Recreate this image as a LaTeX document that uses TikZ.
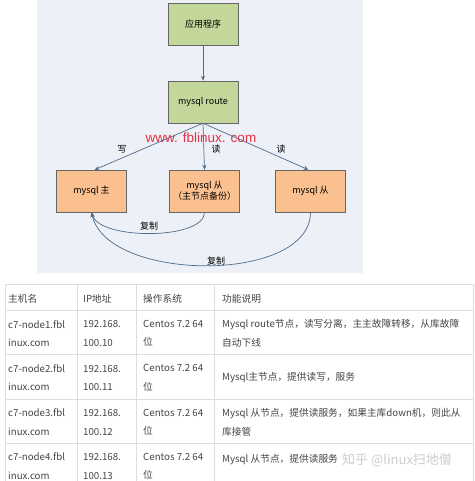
\documentclass[tikz,border=0pt]{standalone}
\usepackage{fontspec}
\setmainfont{Noto Sans CJK SC}
\newfontfamily\webfont{Liberation Sans}
\usetikzlibrary{arrows.meta}

\definecolor{bgblue}{RGB}{237,240,247}
\definecolor{appgreen}{RGB}{196,215,155}
\definecolor{dborange}{RGB}{250,192,143}
\definecolor{linkblue}{RGB}{78,108,140}
\definecolor{webred}{RGB}{226,52,70}
\definecolor{rulegray}{RGB}{221,221,221}
\definecolor{textgray}{RGB}{68,68,68}

\begin{document}
\begin{tikzpicture}[x=1pt,y=-1pt,
    box_node/.style={draw=gray!80!black,minimum width=70pt,minimum height=42pt,inner sep=1pt,font=\fontsize{9}{11}\selectfont,align=center},
    app_node/.style={box_node,fill=appgreen},
    db_node/.style={box_node,fill=dborange},
    link/.style={draw=linkblue,line width=0.7pt,-{Stealth[length=5pt,width=4pt]}},
    link_label/.style={font=\fontsize{9}{11}\selectfont},
    cell/.style={anchor=west,text=textgray,align=left,inner sep=0pt,font=\fontsize{9.7}{18.5}\selectfont}]
    \useasboundingbox (0,0) rectangle (474,481);
    \fill[bgblue] (37,0) rectangle (363,273);

    \node[app_node] (app) at (203,24) {应用程序};
    \node[app_node] (route) at (203,102) {mysql route};
    \node[db_node] (master) at (91.5,191) {mysql 主};
    \node[db_node] (backup) at (204.5,191) {mysql 从\\（主节点备份）};
    \node[db_node] (slave) at (310.5,191) {mysql 从};

    \node[text=webred,font=\webfont\fontsize{13.5}{15}\selectfont] (web) at (201,138) {www. fblinux. com};

    \draw[link] (app) -- (route);
    \draw[link] (route.south) -- ([xshift=3pt]master.north);
    \draw[link] (route.south) -- (backup.north);
    \draw[link] (route.south) -- ([xshift=-2pt]slave.north);
    \draw[link] (backup.south) .. controls +(0,28) and +(8,28) .. (master.south);
    \draw[link] (slave.south) .. controls +(0,72) and +(15,70) .. (master.south);

    \node[link_label] (w1) at (122,149) {写};
    \node[link_label] (r1) at (216,149) {读};
    \node[link_label] (r2) at (281,149) {读};
    \node[link_label] (c1) at (149,226) {复制};
    \node[link_label] (c2) at (216,261) {复制};

    % table
    \draw[rulegray] (5,284) rectangle (473,490);
    \foreach \y in {310,354,399,443}
        \draw[rulegray] (5,\y) -- (473,\y);
    \foreach \x in {77,136,214}
        \draw[rulegray] (\x,284) -- (\x,481);

    \node[cell] (h1) at (8,299) {主机名};
    \node[cell] (h2) at (83,299) {IP地址};
    \node[cell] (h3) at (143,299) {操作系统};
    \node[cell] (h4) at (222,299) {功能说明};

    \node[cell] (n1) at (8,333.5) {c7-node1.fbl\\inux.com};
    \node[cell] (ip1) at (83,333.5) {192.168.\\100.10};
    \node[cell] (os1) at (143,333.5) {Centos 7.2 64\\位};
    \node[cell] (d1) at (222,333.5) {Mysql route节点，读写分离，主主故障转移，从库故障\\自动下线};

    \node[cell] (n2) at (8,377.8) {c7-node2.fbl\\inux.com};
    \node[cell] (ip2) at (83,377.8) {192.168.\\100.11};
    \node[cell] (os2) at (143,377.8) {Centos 7.2 64\\位};
    \node[cell] (d2) at (222,377.8) {Mysql主节点，提供读写，服务};

    \node[cell] (n3) at (8,422.3) {c7-node3.fbl\\inux.com};
    \node[cell] (ip3) at (83,422.3) {192.168.\\100.12};
    \node[cell] (os3) at (143,422.3) {Centos 7.2 64\\位};
    \node[cell] (d3) at (222,422.3) {Mysql 从节点，提供读服务，如果主库down机，则此从\\库接管};

    \node[cell] (n4) at (8,466.3) {c7-node4.fbl\\inux.com};
    \node[cell] (ip4) at (83,466.3) {192.168.\\100.13};
    \node[cell] (os4) at (143,466.3) {Centos 7.2 64\\位};
    \node[cell] (d4) at (222,460) {Mysql 从节点，提供读服务};

    \node[anchor=west,text=black!20,inner sep=0pt,font=\fontsize{13}{15}\selectfont] (zh) at (342,460) {知乎 @linux扫地僧};
\end{tikzpicture}
\end{document}
